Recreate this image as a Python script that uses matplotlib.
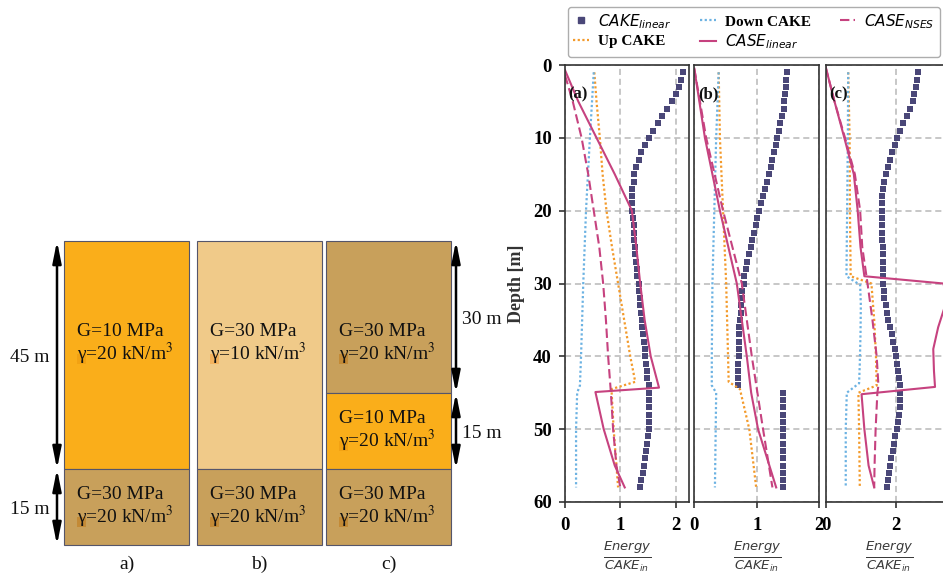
import matplotlib
matplotlib.use("Agg")
import matplotlib.pyplot as plt
from matplotlib.patches import Rectangle
from matplotlib.lines import Line2D
from matplotlib.font_manager import FontProperties
from matplotlib.transforms import blended_transform_factory

W, H, DPI = 943, 577, 100

# ---------------- soil profiles ----------------
profile_labels = ["a)", "b)", "c)"]
layer_thickness = [[45, 15], [45, 15], [30, 15, 15]]
layer_G = [[10, 30], [30, 30], [30, 10, 30]]
layer_gamma = [[20, 20], [10, 20], [20, 20, 20]]

# ---------------- energy profiles ----------------
cake_depth = list(range(1, 59))
cake_linear_a = [2.13, 2.10, 2.06, 2.01, 1.93, 1.85, 1.76, 1.69, 1.60, 1.52,
                 1.45, 1.38, 1.33, 1.28, 1.25, 1.24, 1.22, 1.22, 1.22, 1.22,
                 1.23, 1.24, 1.24, 1.25, 1.27, 1.27, 1.28, 1.30, 1.31, 1.33,
                 1.34, 1.35, 1.36, 1.37, 1.39, 1.40, 1.41, 1.42, 1.44, 1.45,
                 1.47, 1.48, 1.49, 1.51, 1.52, 1.52, 1.52, 1.52, 1.51, 1.51,
                 1.50, 1.48, 1.47, 1.45, 1.43, 1.41, 1.38, 1.36]
cake_linear_b = [1.48, 1.47, 1.46, 1.45, 1.44, 1.43, 1.40, 1.37, 1.36, 1.33,
                 1.31, 1.28, 1.25, 1.22, 1.20, 1.16, 1.13, 1.10, 1.07, 1.04,
                 1.01, 0.98, 0.96, 0.93, 0.91, 0.88, 0.85, 0.83, 0.80, 0.79,
                 0.77, 0.76, 0.75, 0.74, 0.73, 0.72, 0.72, 0.71, 0.71, 0.71,
                 0.70, 0.70, 0.70, 0.70, 1.42, 1.42, 1.42, 1.42, 1.42, 1.42,
                 1.42, 1.42, 1.42, 1.42, 1.42, 1.42, 1.42, 1.42]
cake_linear_c = [2.64, 2.60, 2.56, 2.52, 2.47, 2.40, 2.31, 2.21, 2.11, 2.04,
                 1.97, 1.90, 1.82, 1.76, 1.71, 1.66, 1.63, 1.61, 1.59, 1.59,
                 1.59, 1.59, 1.60, 1.61, 1.62, 1.62, 1.63, 1.63, 1.64, 1.64,
                 1.65, 1.67, 1.72, 1.74, 1.78, 1.83, 1.88, 1.92, 1.97, 2.00,
                 2.04, 2.07, 2.09, 2.10, 2.11, 2.11, 2.10, 2.09, 2.05, 2.02,
                 1.97, 1.94, 1.91, 1.86, 1.83, 1.80, 1.76, 1.74]

up_depth_a = [1, 5, 10, 15, 20, 25, 30, 35, 40, 43.5, 44.5, 50, 58]
up_cake_a = [0.53, 0.57, 0.63, 0.68, 0.75, 0.85, 0.96, 1.07, 1.18, 1.27, 0.84, 0.88, 0.96]
down_depth_a = [1, 10, 20, 30, 40, 44, 45, 50, 58]
down_cake_a = [0.52, 0.45, 0.38, 0.33, 0.29, 0.27, 0.22, 0.20, 0.20]
case_depth_a = [0.7, 5, 10, 15, 20, 25, 30, 35, 40, 44.3, 44.9, 50, 55, 58]
case_linear_a = [0.0, 0.24, 0.57, 0.90, 1.21, 1.29, 1.36, 1.44, 1.55, 1.70, 0.55, 0.70, 0.90, 1.08]
nses_depth_a = [1.4, 5, 10, 15, 20, 25, 30, 35, 40, 45, 50, 55, 58]
case_nses_a = [0.0, 0.14, 0.30, 0.42, 0.52, 0.62, 0.69, 0.74, 0.78, 0.83, 0.87, 0.93, 1.00]

up_depth_b = [1, 10, 20, 30, 40, 43.5, 44.5, 50, 58]
up_cake_b = [0.39, 0.41, 0.46, 0.51, 0.54, 0.55, 0.73, 0.88, 0.99]
down_depth_b = [1, 10, 20, 30, 40, 44, 45, 58]
down_cake_b = [0.39, 0.35, 0.32, 0.29, 0.28, 0.28, 0.35, 0.33]
case_depth_b = [0.5, 10, 20, 30, 40, 45, 50, 58]
case_linear_b = [0.0, 0.17, 0.41, 0.68, 0.84, 0.91, 1.02, 1.31]
nses_depth_b = [0.5, 10, 20, 30, 40, 50, 58]
case_nses_b = [0.0, 0.19, 0.46, 0.76, 0.92, 1.10, 1.25]

up_depth_c = [1, 10, 20, 29, 30, 35, 40, 44, 45, 50, 58]
up_cake_c = [0.64, 0.68, 0.69, 0.71, 1.30, 1.38, 1.43, 1.45, 0.93, 0.95, 0.97]
down_depth_c = [1, 10, 20, 29, 30.2, 33, 37, 41, 43.7, 45, 50, 58]
down_cake_c = [0.64, 0.63, 0.61, 0.59, 0.98, 1.00, 0.99, 0.97, 0.95, 0.60, 0.57, 0.57]
case_depth_c = [0.3, 5, 10, 15, 20, 25, 29, 30, 31.5, 33, 36, 39, 42, 44.2, 45.2, 50, 55, 58]
case_linear_c = [0.0, 0.25, 0.53, 0.80, 0.91, 0.99, 1.10, 3.35, 3.42, 3.40, 3.20, 3.06, 3.08, 3.11,
                 1.02, 1.10, 1.22, 1.38]
nses_depth_c = [0.3, 5, 10, 15, 20, 25, 30, 35, 40, 44, 45, 50, 55, 58]
case_nses_c = [0.0, 0.25, 0.55, 0.83, 0.98, 1.04, 1.19, 1.33, 1.45, 1.50, 1.47, 1.42, 1.39, 1.38]

panel_tags = ["(a)", "(b)", "(c)"]
depth_ticks = [0, 10, 20, 30, 40, 50, 60]
energy_ticks = [[0, 1, 2], [0, 1, 2], [0, 2]]

series_labels = [r"$CAKE_{linear}$", "Up CAKE", "Down CAKE", r"$CASE_{linear}$", r"$CASE_{NSES}$"]

# ---------------- styling ----------------
C_CAKE = "#4a4778"
C_UP = "#f39a2b"
C_DOWN = "#6cb2e2"
C_CASE = "#c6427f"
SERIF = "Liberation Serif"
soil_colors = {(10, 20): "#FAAE1A", (30, 10): "#F0CA89", (30, 20): "#C8A05B"}
gamma_marks = {(10, 20): "#F2A213", (30, 10): "#F4B35E", (30, 20): "#C38A36"}

plt.rcParams["font.family"] = ["DejaVu Sans"]

fig = plt.figure(figsize=(W / DPI, H / DPI), dpi=DPI)

# ---------------- soil column sketch (pixel coordinates) ----------------
sk = fig.add_axes([0, 0, 1, 1])
sk.set_xlim(0, W)
sk.set_ylim(H, 0)
sk.axis("off")

col_left = [64, 197, 326]
col_width = 125
col_top = 241
px_per_m = 228 / 45
txt_kw = dict(family=SERIF, fontsize=14, color="#111111", math_fontfamily="stix")

for i, (thk, gs, gms) in enumerate(zip(layer_thickness, layer_G, layer_gamma)):
    x0 = col_left[i]
    z = 0
    for t, g, gm in zip(thk, gs, gms):
        y0 = col_top + z * px_per_m
        h = t * px_per_m
        sk.add_patch(Rectangle((x0, y0), col_width, h, facecolor=soil_colors[(g, gm)],
                               edgecolor="#55556a", linewidth=0.8))
        cy = y0 + (20 * px_per_m if t > 15 else h / 2 - 2)
        # small tinted block behind the gamma symbol
        sk.add_patch(Rectangle((x0 + 13, cy + 12), 9, 10, facecolor=gamma_marks[(g, gm)],
                               edgecolor="none"))
        sk.text(x0 + 13, cy - 6, f"G={g} MPa", ha="left", va="baseline", **txt_kw)
        sk.text(x0 + 13, cy + 18, "\u03b3=" + f"{gm} kN/m" + r"$^{3}$",
                ha="left", va="baseline", **txt_kw)
        z += t
    sk.text(x0 + col_width / 2, 564, profile_labels[i], ha="center", va="center",
            family=SERIF, fontsize=14, color="#111111")

arrow_kw = dict(arrowstyle="<|-|>,head_length=0.85,head_width=0.17", lw=1.8,
                color="black", shrinkA=0, shrinkB=0, mutation_scale=15)


def dimension(x, thicknesses, side):
    z = 0
    for t in thicknesses:
        ya = col_top + z * px_per_m
        yb = col_top + (z + t) * px_per_m
        sk.annotate("", xy=(x, ya), xytext=(x, yb), arrowprops=arrow_kw)
        if side == "left":
            sk.text(x - 7, (ya + yb) / 2 + 2, f"{t} m", ha="right", va="center",
                    family=SERIF, fontsize=14, color="#111111")
        else:
            sk.text(x + 6, (ya + yb) / 2 + 2, f"{t} m", ha="left", va="center",
                    family=SERIF, fontsize=14, color="#111111")
        z += t


dimension(57, layer_thickness[0], "left")
dimension(456, layer_thickness[2][:2], "right")

# ---------------- energy panels ----------------
bottom_px, top_px = 502, 65
panels_px = [(565, 123.7, 55.3), (694.3, 125.0, 62.5), (825.7, 126.3, 35.15)]
cake_sets = [cake_linear_a, cake_linear_b, cake_linear_c]
up_sets = [(up_depth_a, up_cake_a), (up_depth_b, up_cake_b), (up_depth_c, up_cake_c)]
down_sets = [(down_depth_a, down_cake_a), (down_depth_b, down_cake_b), (down_depth_c, down_cake_c)]
case_sets = [(case_depth_a, case_linear_a), (case_depth_b, case_linear_b), (case_depth_c, case_linear_c)]
nses_sets = [(nses_depth_a, case_nses_a), (nses_depth_b, case_nses_b), (nses_depth_c, case_nses_c)]

tick_font = FontProperties(family=SERIF, weight="bold", size=13.5)

for i, (left, width, scale) in enumerate(panels_px):
    ax = fig.add_axes([left / W, 1 - bottom_px / H, width / W, (bottom_px - top_px) / H])
    ax.set_axisbelow(True)
    ax.plot(cake_sets[i], cake_depth, linestyle="None", marker="s", markersize=4.3,
            color=C_CAKE, markeredgewidth=0)
    ax.plot(up_sets[i][1], up_sets[i][0], color=C_UP, lw=1.6, linestyle=(0, (1, 1.1)))
    ax.plot(down_sets[i][1], down_sets[i][0], color=C_DOWN, lw=1.6, linestyle=(0, (1, 1.1)))
    ax.plot(case_sets[i][1], case_sets[i][0], color=C_CASE, lw=1.5)
    ax.plot(nses_sets[i][1], nses_sets[i][0], color=C_CASE, lw=1.5, linestyle=(0, (4.5, 2)))

    ax.set_xlim(0, width / scale)
    ax.set_ylim(60, 0)
    ax.set_yticks(depth_ticks)
    ax.set_xticks(energy_ticks[i])
    ax.grid(True, color="#b8b8b8", linestyle=(0, (4, 2.5)), linewidth=1.1)
    for sp in ax.spines.values():
        sp.set_color("#333333")
        sp.set_linewidth(1.2)
    ax.tick_params(axis="both", direction="out", length=4.5, width=1.2, color="#333333")
    ax.tick_params(axis="x", pad=6)
    ax.tick_params(axis="y", pad=5)
    for lab in ax.get_xticklabels() + ax.get_yticklabels():
        lab.set_fontproperties(tick_font)
    if i == 0:
        ax.set_ylabel("Depth [m]", fontproperties=FontProperties(family=SERIF, weight="bold", size=13),
                      color="#333333", labelpad=6)
    else:
        ax.tick_params(axis="y", left=False, labelleft=False)
    ax.set_xlabel(r"$\frac{Energy}{CAKE_{in}}$", fontsize=13.5, color="#3a3a3a", labelpad=4)
    ax.text(0.03, 4.1, panel_tags[i], transform=blended_transform_factory(ax.transAxes, ax.transData),
            ha="left", va="center", family=SERIF, weight="bold", fontsize=12, color="#111111")

# ---------------- legend ----------------
handles = [
    Line2D([], [], linestyle="None", marker="s", markersize=5, color=C_CAKE),
    Line2D([], [], color=C_UP, lw=1.6, linestyle=(0, (1, 1.1))),
    Line2D([], [], color=C_DOWN, lw=1.6, linestyle=(0, (1, 1.1))),
    Line2D([], [], color=C_CASE, lw=1.5),
    Line2D([], [], color=C_CASE, lw=1.5, linestyle=(0, (4.5, 2))),
]
fig.legend(handles, series_labels, loc="upper left", bbox_to_anchor=(568 / W, 1 - 6.5 / H),
           ncol=3, prop=FontProperties(family=SERIF, weight="bold", size=11),
           frameon=True, fancybox=True, edgecolor="#999999", handlelength=1.0,
           handletextpad=0.6, columnspacing=1.9, borderpad=0.35, labelspacing=0.25,
           borderaxespad=0, numpoints=1)

fig.savefig("out.png", dpi=DPI)
